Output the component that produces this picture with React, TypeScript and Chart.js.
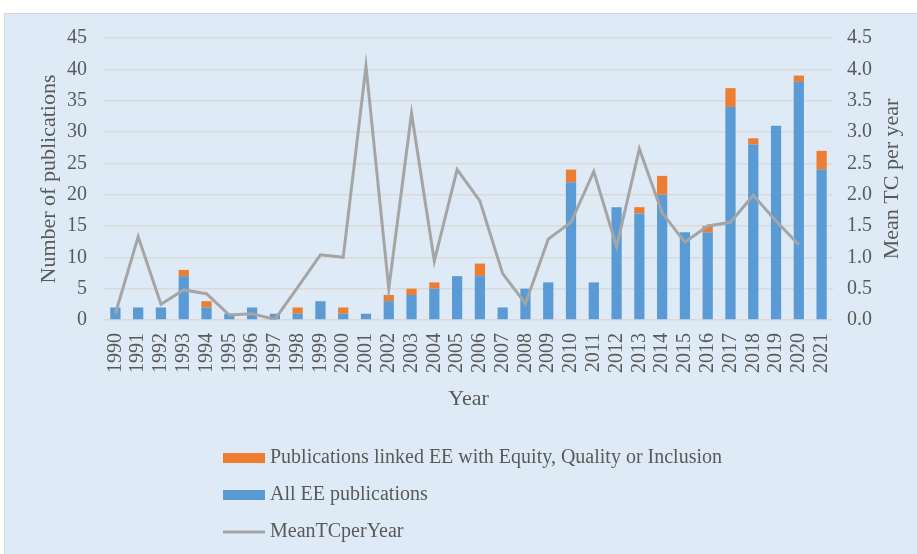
import React, { useEffect, useRef } from "react";
import { Chart, registerables } from "chart.js";

Chart.register(...registerables);

const years = [
  "1990", "1991", "1992", "1993", "1994", "1995", "1996", "1997", "1998", "1999",
  "2000", "2001", "2002", "2003", "2004", "2005", "2006", "2007", "2008", "2009",
  "2010", "2011", "2012", "2013", "2014", "2015", "2016", "2017", "2018", "2019",
  "2020", "2021",
];

const allEEPublications = [
  2, 2, 2, 7, 2, 1, 2, 1, 1, 3,
  1, 1, 3, 4, 5, 7, 7, 2, 5, 6,
  22, 6, 18, 17, 20, 14, 14, 34, 28, 31,
  38, 24,
];

const linkedEquityPublications = [
  0, 0, 0, 1, 1, 0, 0, 0, 1, 0,
  1, 0, 1, 1, 1, 0, 2, 0, 0, 0,
  2, 0, 0, 1, 3, 0, 1, 3, 1, 0,
  1, 3,
];

const meanTCperYear: (number | null)[] = [
  0.1, 1.33, 0.25, 0.48, 0.42, 0.08, 0.1, 0.01, 0.52, 1.04,
  1.0, 4.05, 0.5, 3.3, 0.94, 2.4, 1.9, 0.74, 0.26, 1.29,
  1.56, 2.37, 1.17, 2.73, 1.71, 1.24, 1.5, 1.56, 1.99, 1.58,
  1.2, null,
];

const leftTicks = [0, 5, 10, 15, 20, 25, 30, 35, 40, 45];
const rightTicks = [0, 0.5, 1, 1.5, 2, 2.5, 3, 3.5, 4, 4.5];

const labelLinked = "Publications linked EE with Equity, Quality or Inclusion";
const labelAll = "All EE publications";
const labelMean = "MeanTCperYear";
const rightTitle = "Mean TC per year";

const FONT = "'Liberation Serif', 'Times New Roman', serif";
const TEXT = "#595959";
const BLUE = "#5B9BD5";
const ORANGE = "#ED7D31";
const GRAY = "#A5A5A5";

const bgPlugin = {
  id: "bgBox",
  beforeDraw(chart: any) {
    const ctx = chart.ctx;
    ctx.save();
    ctx.fillStyle = "#ffffff";
    ctx.fillRect(0, 0, chart.width, chart.height);
    ctx.fillStyle = "#DEEBF7";
    ctx.fillRect(4, 13, chart.width - 4, chart.height - 13);
    ctx.strokeStyle = "#D6D6D6";
    ctx.lineWidth = 1;
    ctx.strokeRect(4.5, 13.5, chart.width - 4, chart.height - 13);
    ctx.restore();
  },
};

const rightTitlePlugin = {
  id: "rightTitle",
  afterDraw(chart: any) {
    const ctx = chart.ctx;
    const s = chart.scales.y1;
    ctx.save();
    ctx.font = `22px ${FONT}`;
    ctx.fillStyle = TEXT;
    ctx.textAlign = "center";
    ctx.textBaseline = "middle";
    ctx.translate(s.right - 25, (s.top + s.bottom) / 2);
    ctx.rotate(-Math.PI / 2);
    ctx.fillText(rightTitle, 0, 0);
    ctx.restore();
  },
};

const legendPlugin = {
  id: "stackLegend",
  afterDraw(chart: any) {
    const ctx = chart.ctx;
    const xScale = chart.scales.x;
    const ds = chart.data.datasets;
    const order = [1, 0, 2];
    ctx.save();
    ctx.font = `20px ${FONT}`;
    ctx.textBaseline = "middle";
    ctx.textAlign = "left";
    order.forEach((idx: number, i: number) => {
      const d = ds[idx];
      const y = xScale.bottom + 42 + i * 37;
      const bx = 223;
      if (d.type === "line") {
        ctx.strokeStyle = d.borderColor;
        ctx.lineWidth = 3;
        ctx.beginPath();
        ctx.moveTo(bx, y);
        ctx.lineTo(bx + 42, y);
        ctx.stroke();
      } else {
        ctx.fillStyle = d.backgroundColor;
        ctx.fillRect(bx, y - 5, 42, 10);
      }
      ctx.fillStyle = TEXT;
      ctx.fillText(d.label, bx + 47, y);
    });
    ctx.restore();
  },
};

export default function App() {
  const ref = useRef<HTMLCanvasElement | null>(null);

  useEffect(() => {
    if (!ref.current) return;
    const chart = new Chart(ref.current, {
      type: "bar",
      data: {
        labels: years,
        datasets: [
          {
            type: "bar",
            label: labelAll,
            data: allEEPublications,
            backgroundColor: BLUE,
            yAxisID: "y",
            stack: "pubs",
            order: 1,
            categoryPercentage: 1,
            barPercentage: 0.45,
          },
          {
            type: "bar",
            label: labelLinked,
            data: linkedEquityPublications,
            backgroundColor: ORANGE,
            yAxisID: "y",
            stack: "pubs",
            order: 2,
            categoryPercentage: 1,
            barPercentage: 0.45,
          },
          {
            type: "line",
            label: labelMean,
            data: meanTCperYear,
            borderColor: GRAY,
            backgroundColor: GRAY,
            borderWidth: 3,
            pointRadius: 0,
            tension: 0,
            yAxisID: "y1",
            order: 0,
          } as any,
        ],
      },
      options: {
        responsive: false,
        animation: false,
        layout: { padding: { left: 0, right: 0, top: 38, bottom: 138 } },
        plugins: {
          legend: { display: false },
          tooltip: { enabled: false },
        },
        scales: {
          x: {
            stacked: true,
            grid: { display: false, drawTicks: false },
            border: { display: false },
            ticks: {
              autoSkip: false,
              minRotation: 90,
              maxRotation: 90,
              padding: 13,
              color: TEXT,
              font: { family: FONT, size: 20 },
            },
            title: {
              display: true,
              text: "Year",
              color: TEXT,
              font: { family: FONT, size: 22 },
              padding: { top: 0, bottom: 4 },
            },
            afterFit: (s: any) => {
              s.height = 96;
            },
          },
          y: {
            stacked: true,
            position: "left",
            min: 0,
            max: 45,
            afterBuildTicks: (s: any) => {
              s.ticks = leftTicks.map((v) => ({ value: v }));
            },
            grid: { color: "#D9D9D9", lineWidth: 1.5, drawTicks: false },
            border: { display: false },
            ticks: {
              padding: 17,
              color: TEXT,
              font: { family: FONT, size: 20 },
            },
            title: {
              display: true,
              text: "Number of publications",
              color: TEXT,
              font: { family: FONT, size: 22 },
              padding: { top: 36, bottom: 4 },
            },
            afterFit: (s: any) => {
              s.width = 104;
            },
          },
          y1: {
            position: "right",
            min: 0,
            max: 4.5,
            afterBuildTicks: (s: any) => {
              s.ticks = rightTicks.map((v) => ({ value: v }));
            },
            grid: { display: false, drawTicks: false },
            border: { display: false },
            ticks: {
              padding: 14,
              color: TEXT,
              font: { family: FONT, size: 20 },
              callback: (v: any) => Number(v).toFixed(1),
            },
            title: { display: false },
            afterFit: (s: any) => {
              s.width = 84;
            },
          },
        },
      },
      plugins: [bgPlugin, rightTitlePlugin, legendPlugin],
    });
    return () => chart.destroy();
  }, []);

  return (
    <div style={{ position: "fixed", left: 0, top: 0, width: 917, height: 554 }}>
      <canvas ref={ref} width={917} height={554} />
    </div>
  );
}
